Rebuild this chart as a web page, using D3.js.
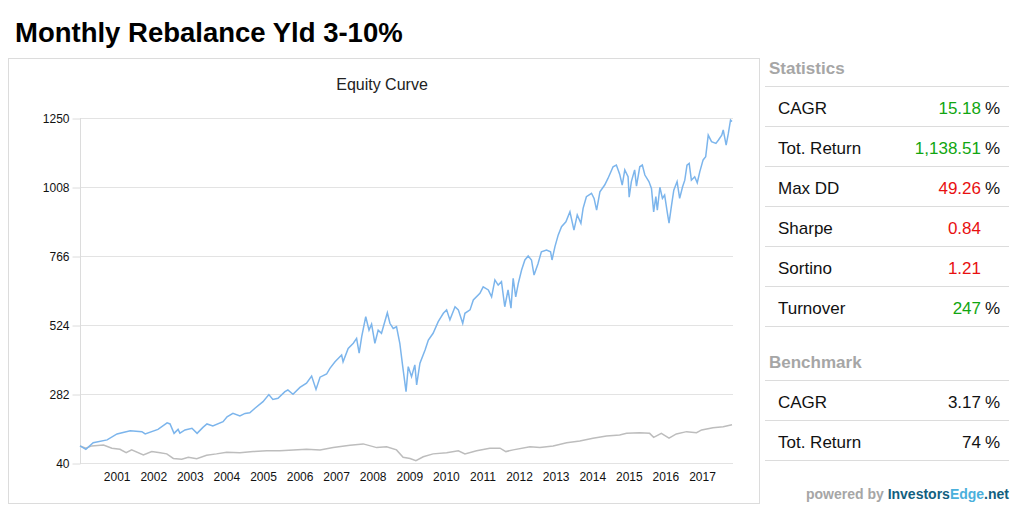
<!DOCTYPE html>
<html>
<head>
<meta charset="utf-8">
<script src="https://cdn.jsdelivr.net/npm/d3@7"></script>
<style>
  body { margin: 0; background: #fff; }
  svg { font-family: "Liberation Sans", Arial, sans-serif; }
</style>
</head>
<body>
<div id="chart"></div>
<script>
var svgWidth = 1024;
var svgHeight = 512;

// equity curve of the strategy (decimal years, value)
var stratDates = [2000.00, 2000.16, 2000.36, 2000.74, 2001.01, 2001.37, 2001.69, 2001.78, 2002.13, 2002.38,
  2002.46, 2002.57, 2002.68, 2002.73, 2002.87, 2003.06, 2003.20, 2003.36, 2003.47, 2003.63,
  2003.91, 2004.02, 2004.18, 2004.37, 2004.51, 2004.64, 2004.78, 2005.00, 2005.16, 2005.27,
  2005.41, 2005.60, 2005.68, 2005.82, 2006.01, 2006.19, 2006.33, 2006.45, 2006.56, 2006.74,
  2006.83, 2006.97, 2007.15, 2007.19, 2007.33, 2007.47, 2007.56, 2007.63, 2007.70, 2007.81,
  2007.90, 2007.97, 2008.06, 2008.15, 2008.24, 2008.40, 2008.47, 2008.56, 2008.65, 2008.74,
  2008.82, 2008.91, 2008.97, 2009.06, 2009.15, 2009.20, 2009.29, 2009.43, 2009.52, 2009.65,
  2009.79, 2009.93, 2010.02, 2010.11, 2010.25, 2010.34, 2010.46, 2010.52, 2010.66, 2010.75,
  2010.93, 2011.02, 2011.16, 2011.25, 2011.34, 2011.43, 2011.52, 2011.61, 2011.70, 2011.78,
  2011.84, 2011.91, 2011.98, 2012.07, 2012.16, 2012.25, 2012.34, 2012.41, 2012.52, 2012.61,
  2012.75, 2012.86, 2012.90, 2012.98, 2013.07, 2013.16, 2013.28, 2013.39, 2013.50, 2013.59,
  2013.69, 2013.75, 2013.84, 2013.98, 2014.05, 2014.12, 2014.21, 2014.34, 2014.43, 2014.57,
  2014.66, 2014.75, 2014.82, 2014.89, 2014.98, 2015.01, 2015.07, 2015.16, 2015.21, 2015.30,
  2015.37, 2015.44, 2015.55, 2015.62, 2015.68, 2015.74, 2015.78, 2015.85, 2015.92, 2015.98,
  2016.05, 2016.10, 2016.17, 2016.23, 2016.32, 2016.39, 2016.47, 2016.53, 2016.59, 2016.65,
  2016.71, 2016.80, 2016.87, 2016.94, 2017.03, 2017.10, 2017.17, 2017.26, 2017.38, 2017.45,
  2017.54, 2017.58, 2017.66, 2017.72, 2017.78, 2017.82];
var stratValues = [100, 88, 111, 121, 142, 153, 150, 142, 158, 181,
  177, 144, 158, 145, 156, 162, 144, 165, 177, 170,
  185, 202, 214, 205, 214, 216, 232, 255, 280, 263,
  267, 290, 296, 281, 305, 320, 345, 298, 341, 352,
  372, 395, 419, 395, 442, 460, 477, 425, 483, 553,
  506, 527, 460, 506, 495, 567, 530, 512, 518, 460,
  378, 290, 378, 343, 384, 314, 390, 436, 471, 495,
  536, 565, 577, 542, 588, 577, 530, 565, 577, 612,
  635, 658, 647, 623, 682, 664, 676, 588, 647, 583,
  688, 623, 670, 717, 752, 766, 752, 699, 740, 781,
  787, 781, 752, 799, 840, 869, 886, 921, 857, 910,
  881, 933, 974, 986, 968, 927, 991, 1015, 1038, 1079,
  1085, 1053, 1015, 1068, 1044, 972, 1027, 1068, 1011, 1079,
  1085, 1050, 1027, 1003, 921, 974, 927, 1007, 968, 980,
  921, 881, 945, 997, 1027, 968, 1009, 1032, 1085, 1091,
  1032, 1044, 1023, 1062, 1103, 1114, 1190, 1167, 1161, 1173,
  1190, 1208, 1155, 1196, 1243, 1238];

// benchmark curve
var benchDates = [2000.00, 2000.16, 2000.32, 2000.64, 2000.87, 2001.09, 2001.26, 2001.41, 2001.73, 2001.96,
  2002.19, 2002.37, 2002.55, 2002.78, 2002.96, 2003.19, 2003.46, 2003.73, 2004.01, 2004.37,
  2004.73, 2005.10, 2005.46, 2005.83, 2006.19, 2006.56, 2006.92, 2007.38, 2007.74, 2008.11,
  2008.38, 2008.65, 2008.83, 2009.02, 2009.18, 2009.38, 2009.65, 2010.02, 2010.34, 2010.52,
  2010.84, 2011.20, 2011.48, 2011.64, 2011.84, 2012.30, 2012.57, 2012.93, 2013.30, 2013.66,
  2014.02, 2014.39, 2014.75, 2014.94, 2015.30, 2015.57, 2015.68, 2015.89, 2016.10, 2016.30,
  2016.58, 2016.85, 2016.99, 2017.30, 2017.58, 2017.82];
var benchValues = [100, 92, 100, 103, 92, 88, 76, 86, 68, 80,
  76, 72, 56, 53, 60, 55, 67, 72, 78, 76,
  80, 83, 83, 86, 88, 86, 94, 102, 107, 94,
  97, 86, 60, 56, 48, 62, 72, 76, 83, 72,
  83, 92, 92, 80, 86, 97, 94, 100, 111, 117,
  127, 135, 138, 144, 146, 144, 130, 144, 127, 142,
  150, 146, 156, 164, 167, 174];

var yTicks = [40, 282, 524, 766, 1008, 1250];
var yearTicks = [2001, 2002, 2003, 2004, 2005, 2006, 2007, 2008, 2009,
  2010, 2011, 2012, 2013, 2014, 2015, 2016, 2017];

var statLabels = ["CAGR", "Tot. Return", "Max DD", "Sharpe", "Sortino", "Turnover"];
var statValues = ["15.18", "1,138.51", "49.26", "0.84", "1.21", "247"];
var statUnits = ["%", "%", "%", "", "", "%"];
var statGood = [true, true, false, false, false, true];

var benchLabels = ["CAGR", "Tot. Return"];
var benchStatValues = ["3.17", "74"];
var benchUnits = ["%", "%"];

// decimal year -> Date
function toDate(y) {
  var yr = Math.floor(y);
  var start = new Date(yr, 0, 1);
  var end = new Date(yr + 1, 0, 1);
  return new Date(+start + (y - yr) * (end - start));
}

var strat = stratDates.map((d, i) => ({ date: toDate(d), value: stratValues[i] }));
var bench = benchDates.map((d, i) => ({ date: toDate(d), value: benchValues[i] }));

var svg = d3.select("#chart")
  .append("svg")
  .attr("width", svgWidth)
  .attr("height", svgHeight);

// page title
svg.append("text")
  .attr("x", 15)
  .attr("y", 42)
  .attr("font-size", "27.5px")
  .attr("font-weight", "bold")
  .attr("fill", "#000")
  .text("Monthly Rebalance Yld 3-10%");

// chart frame
svg.append("rect")
  .attr("x", 8.5)
  .attr("y", 58.5)
  .attr("width", 751)
  .attr("height", 445)
  .attr("fill", "#fff")
  .attr("stroke", "#dcdcdc");

svg.append("text")
  .attr("x", 382)
  .attr("y", 90)
  .attr("text-anchor", "middle")
  .attr("font-size", "16px")
  .attr("fill", "#222")
  .text("Equity Curve");

var plot = { left: 80, right: 732, top: 118, bottom: 463 };

var xScale = d3.scaleTime()
  .domain([toDate(2000), toDate(2017.82)])
  .range([plot.left, plot.right]);

var yScale = d3.scaleLinear()
  .domain([40, 1250])
  .range([plot.bottom, plot.top]);

// horizontal grid
svg.append("g")
  .selectAll("line")
  .data(yTicks)
  .enter()
  .append("line")
  .attr("x1", plot.left)
  .attr("x2", plot.right + 1)
  .attr("y1", d => Math.round(yScale(d)) + 0.5)
  .attr("y2", d => Math.round(yScale(d)) + 0.5)
  .attr("stroke", "#e3e3e3");

// y axis
var leftAxis = d3.axisLeft(yScale)
  .tickValues(yTicks)
  .tickSize(8)
  .tickPadding(3)
  .tickFormat(d3.format("d"));

var yAxis = svg.append("g")
  .attr("transform", `translate(${plot.left + 0.5}, 0.5)`)
  .call(leftAxis);
yAxis.select(".domain").remove();
yAxis.selectAll(".tick line").attr("stroke", "#dcdcdc");
yAxis.selectAll(".tick text")
  .attr("font-family", "Liberation Sans, Arial, sans-serif")
  .attr("font-size", "12px")
  .attr("fill", "#111");

svg.append("line")
  .attr("x1", plot.left + 0.5)
  .attr("x2", plot.left + 0.5)
  .attr("y1", plot.top)
  .attr("y2", plot.bottom + 1)
  .attr("stroke", "#dcdcdc");

// x axis
var bottomAxis = d3.axisBottom(xScale)
  .tickValues(yearTicks.map(y => toDate(y)))
  .tickSize(0)
  .tickPadding(9)
  .tickFormat(d3.timeFormat("%Y"));

var xAxis = svg.append("g")
  .attr("transform", `translate(0, ${plot.bottom})`)
  .call(bottomAxis);
xAxis.select(".domain").remove();
xAxis.selectAll(".tick text")
  .attr("font-family", "Liberation Sans, Arial, sans-serif")
  .attr("font-size", "12px")
  .attr("fill", "#111");

var line = d3.line()
  .x(d => xScale(d.date))
  .y(d => yScale(d.value));

svg.append("path")
  .datum(bench)
  .attr("d", line)
  .attr("fill", "none")
  .attr("stroke", "#bdbdbd")
  .attr("stroke-width", 1.5);

svg.append("path")
  .datum(strat)
  .attr("d", line)
  .attr("fill", "none")
  .attr("stroke", "#7cb5ec")
  .attr("stroke-width", 1.5);

// statistics panel
var panel = { left: 765, right: 1009, labelX: 778, valueX: 981, unitX: 1000 };

function drawTable(title, titleY, lineY, labels, values, units, colors) {
  svg.append("text")
    .attr("x", 769)
    .attr("y", titleY)
    .attr("font-size", "17px")
    .attr("font-weight", "bold")
    .attr("fill", "#a6a6a6")
    .text(title);

  labels.forEach(function(label, i) {
    var top = lineY + i * 40;
    svg.append("line")
      .attr("x1", panel.left)
      .attr("x2", panel.right)
      .attr("y1", top + 0.5)
      .attr("y2", top + 0.5)
      .attr("stroke", "#dcdcdc");
    svg.append("text")
      .attr("x", panel.labelX)
      .attr("y", top + 28)
      .attr("font-size", "17px")
      .attr("fill", "#111")
      .text(label);
    svg.append("text")
      .attr("x", panel.valueX)
      .attr("y", top + 28)
      .attr("text-anchor", "end")
      .attr("font-size", "17px")
      .attr("fill", colors[i])
      .text(values[i]);
    svg.append("text")
      .attr("x", panel.unitX)
      .attr("y", top + 28)
      .attr("text-anchor", "end")
      .attr("font-size", "17px")
      .attr("fill", "#111")
      .text(units[i]);
  });
  svg.append("line")
    .attr("x1", panel.left)
    .attr("x2", panel.right)
    .attr("y1", lineY + labels.length * 40 + 0.5)
    .attr("y2", lineY + labels.length * 40 + 0.5)
    .attr("stroke", "#dcdcdc");
}

drawTable("Statistics", 74, 86, statLabels, statValues, statUnits,
  statGood.map(g => g ? "#11a611" : "#e81010"));
drawTable("Benchmark", 368, 380, benchLabels, benchStatValues, benchUnits,
  benchLabels.map(() => "#111"));

// footer
var footer = svg.append("text")
  .attr("x", 1009)
  .attr("y", 499)
  .attr("text-anchor", "end")
  .attr("font-size", "14px")
  .attr("font-weight", "bold");
footer.append("tspan").attr("fill", "#a6a6a6").text("powered by ");
footer.append("tspan").attr("fill", "#135f80").text("Investors");
footer.append("tspan").attr("fill", "#4ab0dc").text("Edge");
footer.append("tspan").attr("fill", "#135f80").text(".net");
</script>
</body>
</html>
